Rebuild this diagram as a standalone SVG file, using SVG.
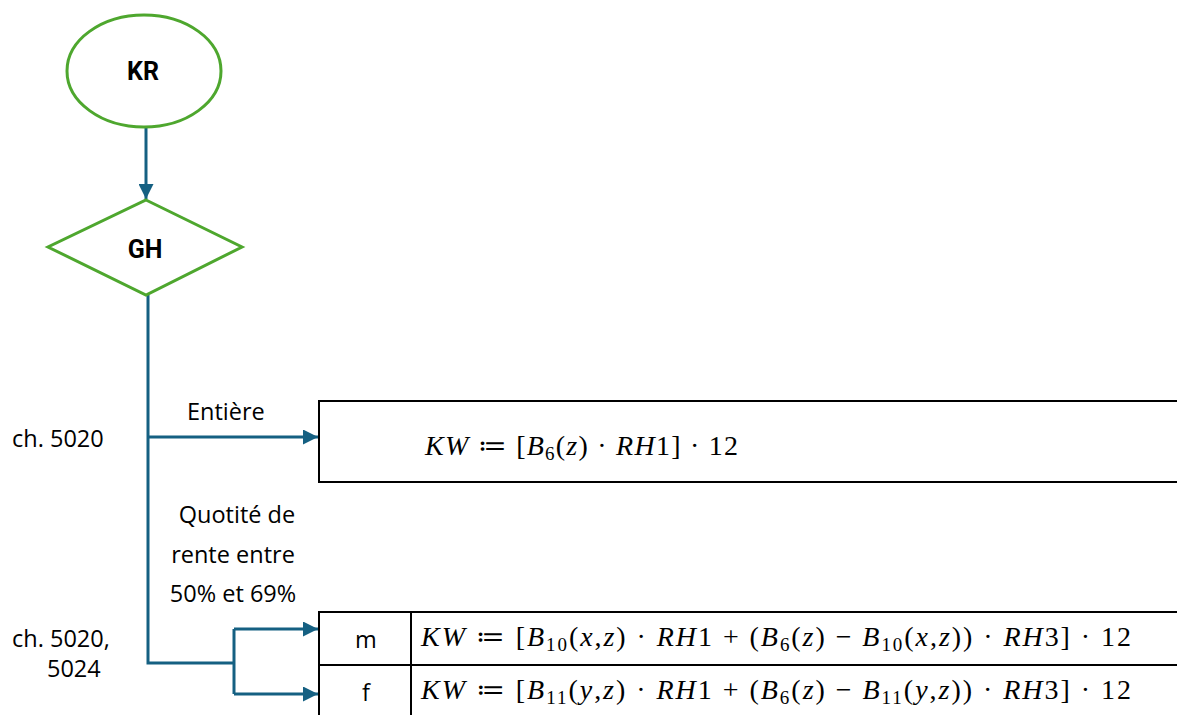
<svg xmlns="http://www.w3.org/2000/svg" width="1177" height="715" viewBox="0 0 1177 715">
<style>
.node{fill:#fff;stroke:#4ea72e;stroke-width:3}
.ntext{font-family:Roboto,"Liberation Sans",sans-serif;font-weight:bold;font-size:25px;fill:#000}
.conn{fill:none;stroke:#156082;stroke-width:3}
.lbl{font-family:"Open Sans","Noto Sans",sans-serif;font-size:23.5px;fill:#000}
.box{fill:#fff;stroke:#000;stroke-width:2}
.f{font-family:"Liberation Serif","DejaVu Serif",serif;font-size:28px;fill:#000}
.i{font-style:italic}
.s{font-size:19px}
</style>
<defs>
<marker id="ah" viewBox="0 0 10 10" refX="10" refY="5" markerWidth="5" markerHeight="5" orient="auto" markerUnits="strokeWidth">
<path d="M0,0 L10,5 L0,10 z" fill="#156082"/>
</marker>
</defs>
<g id="connectors">
<path class="conn" d="M146,127 L146,199" marker-end="url(#ah)"/>
<path class="conn" d="M148,295 L148,663 L234,663"/>
<path class="conn" d="M148,437 L318,437" marker-end="url(#ah)"/>
<path class="conn" d="M234,629 L234,694"/>
<path class="conn" d="M234,629 L318,629" marker-end="url(#ah)"/>
<path class="conn" d="M234,694 L318,694" marker-end="url(#ah)"/>
</g>
<g id="node-KR">
<ellipse class="node" cx="144" cy="71" rx="77" ry="56"/>
<text class="ntext" x="143" y="80" text-anchor="middle">KR</text>
</g>
<g id="node-GH">
<polygon class="node" points="146,200 242,247 146,295 48,247"/>
<text class="ntext" x="145" y="258" text-anchor="middle">GH</text>
</g>
<g id="labels">
<text class="lbl" x="187" y="420">Entière</text>
<text class="lbl" x="12" y="447">ch. 5020</text>
<text class="lbl" x="237" y="523" text-anchor="middle">Quotité de</text>
<text class="lbl" x="233" y="563" text-anchor="middle">rente entre</text>
<text class="lbl" x="233" y="602" text-anchor="middle">50% et 69%</text>
<text class="lbl" x="12" y="647">ch. 5020,</text>
<text class="lbl" x="47" y="677">5024</text>
</g>
<g id="node-entiere">
<path class="box" d="M1180,401 L319,401 L319,482 L1180,482"/>
<text class="f" x="425" y="455" textLength="313"><tspan class="i">KW</tspan> ≔ [<tspan class="i">B</tspan><tspan class="s" dy="5">6</tspan><tspan dy="-5">(</tspan><tspan class="i">z</tspan>) · <tspan class="i">RH</tspan>1] · 12</text>
</g>
<g id="node-table">
<path class="box" d="M1180,612 L319,612 L319,715 M319,665 L1180,665 M411,612 L411,715"/>
<text class="lbl" x="366" y="648" text-anchor="middle">m</text>
<text class="lbl" x="366" y="701" text-anchor="middle">f</text>
<text class="f" x="421" y="646" textLength="710"><tspan class="i">KW</tspan> ≔ [<tspan class="i">B</tspan><tspan class="s" dy="5">10</tspan><tspan dy="-5">(</tspan><tspan class="i">x</tspan>,<tspan class="i">z</tspan>) · <tspan class="i">RH</tspan>1 + (<tspan class="i">B</tspan><tspan class="s" dy="5">6</tspan><tspan dy="-5">(</tspan><tspan class="i">z</tspan>) − <tspan class="i">B</tspan><tspan class="s" dy="5">10</tspan><tspan dy="-5">(</tspan><tspan class="i">x</tspan>,<tspan class="i">z</tspan>)) · <tspan class="i">RH</tspan>3] · 12</text>
<text class="f" x="421" y="699" textLength="710"><tspan class="i">KW</tspan> ≔ [<tspan class="i">B</tspan><tspan class="s" dy="5">11</tspan><tspan dy="-5">(</tspan><tspan class="i">y</tspan>,<tspan class="i">z</tspan>) · <tspan class="i">RH</tspan>1 + (<tspan class="i">B</tspan><tspan class="s" dy="5">6</tspan><tspan dy="-5">(</tspan><tspan class="i">z</tspan>) − <tspan class="i">B</tspan><tspan class="s" dy="5">11</tspan><tspan dy="-5">(</tspan><tspan class="i">y</tspan>,<tspan class="i">z</tspan>)) · <tspan class="i">RH</tspan>3] · 12</text>
</g>
</svg>
